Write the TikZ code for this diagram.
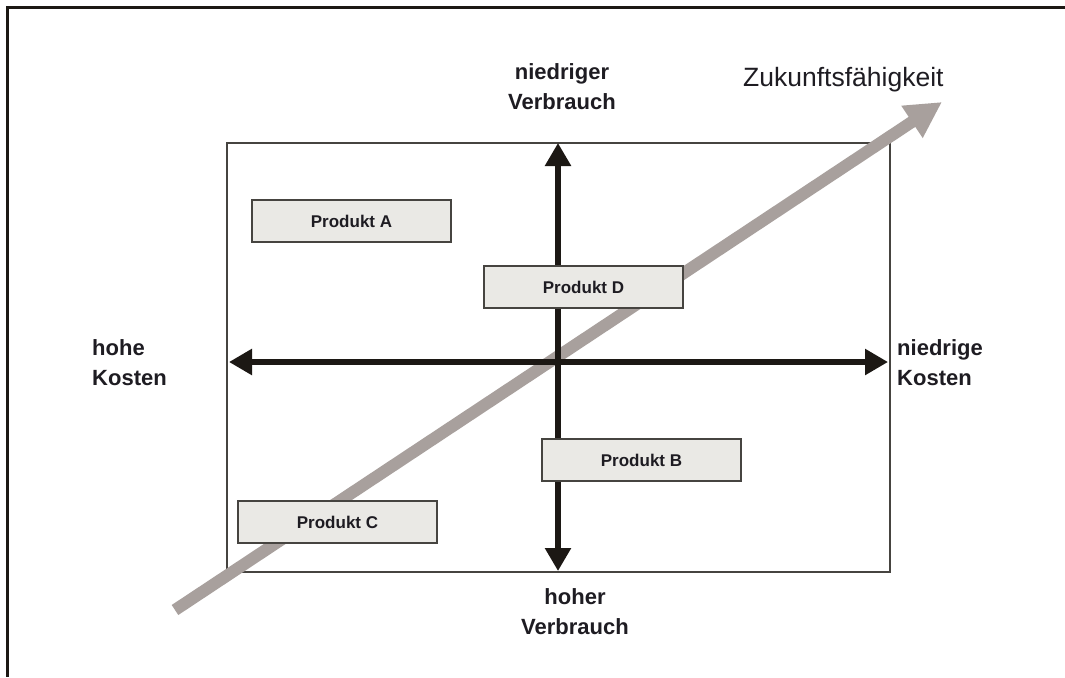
\documentclass[tikz,border=0pt]{standalone}
\usepackage{fontspec}
\setmainfont{Liberation Sans}
\usetikzlibrary{arrows.meta}
\definecolor{axisblack}{RGB}{28,24,20}
\definecolor{framegray}{RGB}{70,68,64}
\definecolor{boxfill}{RGB}{234,233,229}
\definecolor{trendgray}{RGB}{168,160,157}
\definecolor{textdark}{RGB}{30,28,34}
\tikzset{
  frameline/.style={line width=3pt, draw=axisblack},
  field/.style={line width=1.4pt, draw=framegray},
  axis/.style={line width=5.5pt, draw=axisblack,
    {Triangle[length=23pt,width=25pt]}-{Triangle[length=23pt,width=25pt]}},
  trend/.style={line width=12pt, draw=trendgray,
    -{Triangle[length=36pt,width=36pt]}},
  prod/.style={draw=framegray, line width=1.3pt, fill=boxfill,
    minimum width=199pt, minimum height=42pt, inner sep=0pt,
    font=\bfseries\fontsize{17}{19}\selectfont, text=textdark},
  axlabel/.style={font=\bfseries\fontsize{22}{30}\selectfont, text=textdark, inner sep=0pt},
  trendlabel/.style={font=\fontsize{26.5}{30}\selectfont, text=textdark, inner sep=0pt}
}
\begin{document}
\begin{tikzpicture}[x=1pt,y=-1pt]
  \useasboundingbox (0,0) rectangle (1065,677);
  \fill[white] (0,0) rectangle (1065,677);

  % outer frame (top and left edges only)
  \draw[frameline] (1065,7.5) -- (7.5,7.5) -- (7.5,677);

  % portfolio field
  \draw[field] (227,143) rectangle (890,572);

  % trend arrow across the field
  \coordinate (tS) at (175,610);
  \coordinate (tE) at (942,102);
  \draw[trend] (tS) -- (tE);

  % axes
  \coordinate (aL) at (229,362);
  \coordinate (aR) at (888,362);
  \coordinate (aT) at (558,143);
  \coordinate (aB) at (558,571);
  \draw[axis] (aL) -- (aR);
  \draw[axis] (aT) -- (aB);

  % products
  \node[prod] (pA) at (351.5,221) {Produkt A};
  \node[prod] (pD) at (583.5,287) {Produkt D};
  \node[prod] (pB) at (641.5,460) {Produkt B};
  \node[prod] (pC) at (337.5,522) {Produkt C};

  % axis labels
  \node[axlabel, align=center] (lTop) at (562,87) {niedriger\\Verbrauch};
  \node[axlabel, align=center] (lBot) at (575,612) {hoher\\Verbrauch};
  \node[axlabel, align=left, anchor=west] (lLeft) at (92,363) {hohe\\Kosten};
  \node[axlabel, align=left, anchor=west] (lRight) at (897,363) {niedrige\\Kosten};
  \node[trendlabel, anchor=base west] (lTrend) at (743,86) {Zukunftsfähigkeit};
\end{tikzpicture}
\end{document}
